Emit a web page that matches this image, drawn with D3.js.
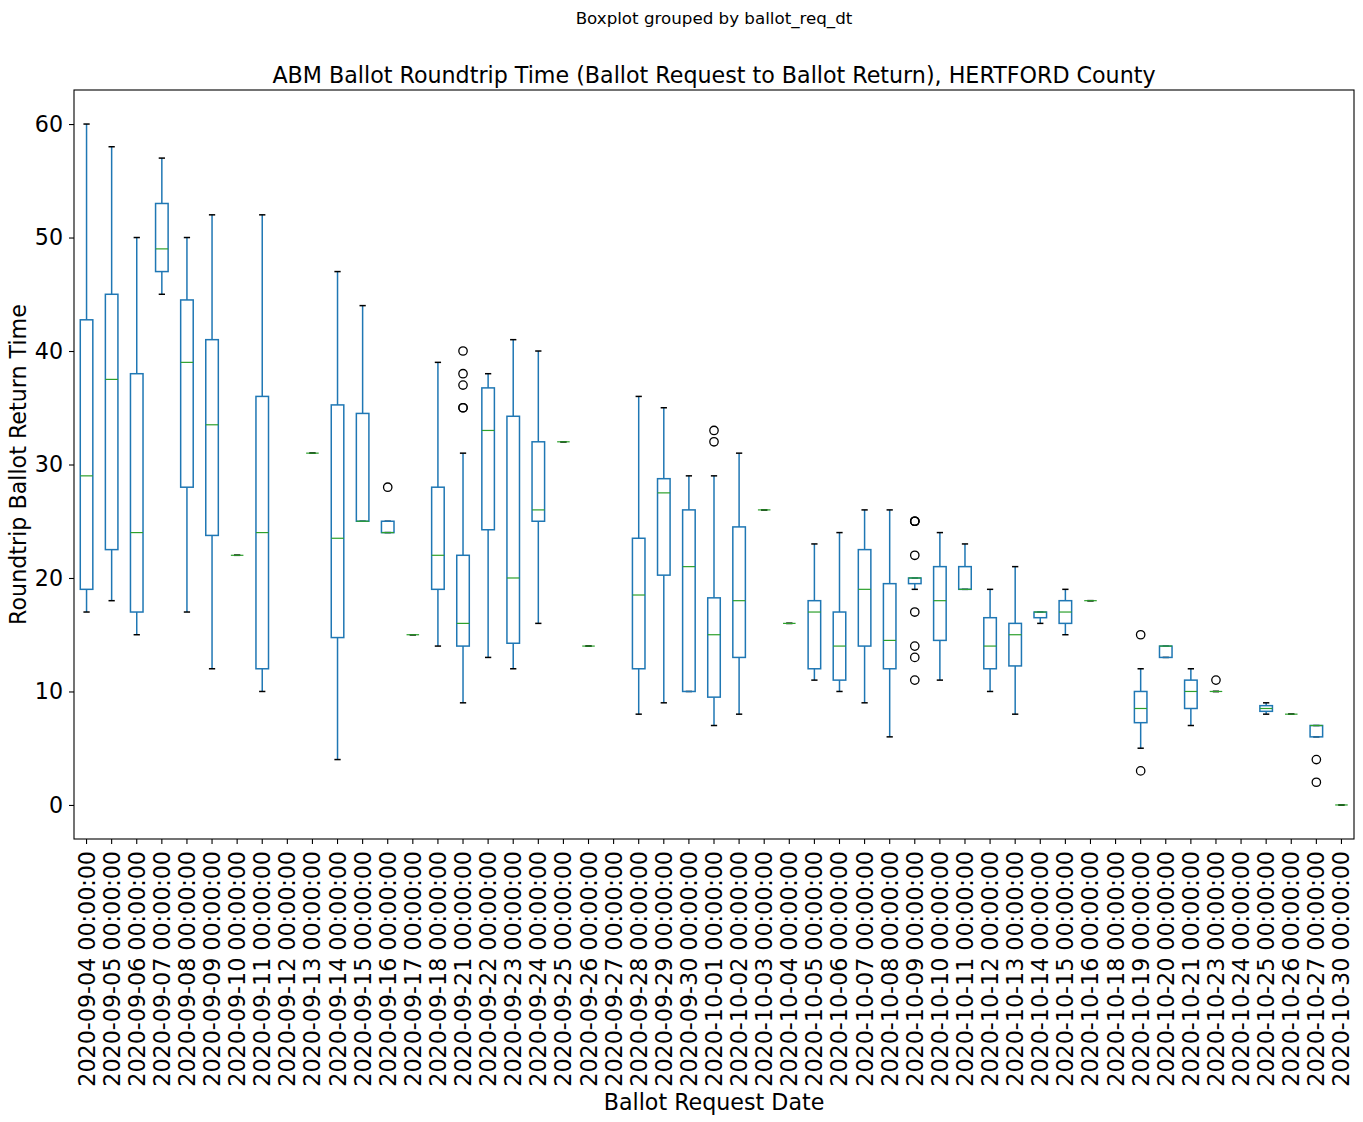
<!DOCTYPE html>
<html>
<head>
<meta charset="utf-8">
<script src="https://cdn.jsdelivr.net/npm/d3@7"></script>
<style>
  html, body { margin: 0; padding: 0; background: #fff; }
  svg { display: block; }
  text { font-family: "DejaVu Sans", sans-serif; fill: #000; }
</style>
</head>
<body>
<svg id="chart" width="1363" height="1122"></svg>
<script>
// ---- Data ----
const categories = [
  "2020-09-04 00:00:00","2020-09-05 00:00:00","2020-09-06 00:00:00","2020-09-07 00:00:00",
  "2020-09-08 00:00:00","2020-09-09 00:00:00","2020-09-10 00:00:00","2020-09-11 00:00:00",
  "2020-09-12 00:00:00","2020-09-13 00:00:00","2020-09-14 00:00:00","2020-09-15 00:00:00",
  "2020-09-16 00:00:00","2020-09-17 00:00:00","2020-09-18 00:00:00","2020-09-21 00:00:00",
  "2020-09-22 00:00:00","2020-09-23 00:00:00","2020-09-24 00:00:00","2020-09-25 00:00:00",
  "2020-09-26 00:00:00","2020-09-27 00:00:00","2020-09-28 00:00:00","2020-09-29 00:00:00",
  "2020-09-30 00:00:00","2020-10-01 00:00:00","2020-10-02 00:00:00","2020-10-03 00:00:00",
  "2020-10-04 00:00:00","2020-10-05 00:00:00","2020-10-06 00:00:00","2020-10-07 00:00:00",
  "2020-10-08 00:00:00","2020-10-09 00:00:00","2020-10-10 00:00:00","2020-10-11 00:00:00",
  "2020-10-12 00:00:00","2020-10-13 00:00:00","2020-10-14 00:00:00","2020-10-15 00:00:00",
  "2020-10-16 00:00:00","2020-10-18 00:00:00","2020-10-19 00:00:00","2020-10-20 00:00:00",
  "2020-10-21 00:00:00","2020-10-23 00:00:00","2020-10-24 00:00:00","2020-10-25 00:00:00",
  "2020-10-26 00:00:00","2020-10-27 00:00:00","2020-10-30 00:00:00"
];
// null = no box drawn for that date
const whiskerLow = [17,18,15,45,17,12,22,10,null,31,4,25,24,15,14,9,13,12,16,32,14,null,8,9,10,7,8,26,16,11,10,9,6,19,11,19,10,8,16,15,18,null,5,13,7,10,null,8,8,6,0];
const q1 =        [19,22.5,17,47,28,23.75,22,12,null,31,14.75,25,24,15,19,14,24.25,14.25,25,32,14,null,12,20.25,10,9.5,13,26,16,12,11,14,12,19.5,14.5,19,12,12.25,16.5,16,18,null,7.25,13,8.5,10,null,8.25,8,6,0];
const medians =   [29,37.5,24,49,39,33.5,22,24,null,31,23.5,25,24,15,22,16,33,20,26,32,14,null,18.5,27.5,21,15,18,26,16,17,14,19,14.5,20,18,19,14,15,17,17,18,null,8.5,14,10,10,null,8.5,8,7,0];
const q3 =        [42.75,45,38,53,44.5,41,22,36,null,31,35.25,34.5,25,15,28,22,36.75,34.25,32,32,14,null,23.5,28.75,26,18.25,24.5,26,16,18,17,22.5,19.5,20,21,21,16.5,16,17,18,18,null,10,14,11,10,null,8.75,8,7,0];
const whiskerHigh=[60,58,50,57,50,52,22,52,null,31,47,44,25,15,39,31,38,41,40,32,14,null,36,35,29,29,31,26,16,23,24,26,26,20,24,23,19,21,17,19,18,null,12,14,12,10,null,9,8,7,0];
const outliers = [[],[],[],[],[],[],[],[],[],[],[],[],[28],[],[],[35,35,37,38,40],[],[],[],[],[],[],[],[],[],[32,33],[],[],[],[],[],[],[],[25,25,25,22,17,14,13,11],[],[],[],[],[],[],[],[],[15,3],[],[],[11],[],[],[],[4,2],[]];
const yTicks = [0,10,20,30,40,50,60];

(function () {
  // ---- Layout ----
  const svg = d3.select("#chart");
  const mL = 74, mR = 1354, mT = 90, mB = 839;
  const fs = 22.2;

  const x = d3.scaleBand().domain(categories).range([mL, mR]).paddingInner(0).paddingOuter(0);
  const y = d3.scaleLinear().domain([-3, 63]).range([mB, mT]);
  const bw = x.bandwidth();
  const cx = c => x(c) + bw / 2;

  const blue = "#1f77b4", green = "#2ca02c";

  // ---- Boxes ----
  const data = categories.map((c, i) => ({
    c, lo: whiskerLow[i], q1: q1[i], med: medians[i], q3: q3[i], hi: whiskerHigh[i], out: outliers[i]
  })).filter(d => d.med !== null);

  const g = svg.append("g");
  const boxW = bw * 0.5, capW = bw * 0.25;

  data.forEach(d => {
    const xc = cx(d.c);
    const gg = g.append("g");
    gg.append("line").attr("x1", xc).attr("x2", xc).attr("y1", y(d.q1)).attr("y2", y(d.lo))
      .attr("stroke", blue).attr("stroke-width", 1.5);
    gg.append("line").attr("x1", xc).attr("x2", xc).attr("y1", y(d.q3)).attr("y2", y(d.hi))
      .attr("stroke", blue).attr("stroke-width", 1.5);
    [d.lo, d.hi].forEach(v => {
      gg.append("line").attr("x1", xc - capW / 2).attr("x2", xc + capW / 2)
        .attr("y1", y(v)).attr("y2", y(v)).attr("stroke", "#000").attr("stroke-width", 1.5);
    });
    gg.append("rect").attr("x", xc - boxW / 2).attr("width", boxW)
      .attr("y", y(d.q3)).attr("height", Math.max(0, y(d.q1) - y(d.q3)))
      .attr("fill", "none").attr("stroke", blue).attr("stroke-width", 1.5);
    gg.append("line").attr("x1", xc - boxW / 2).attr("x2", xc + boxW / 2)
      .attr("y1", y(d.med)).attr("y2", y(d.med)).attr("stroke", green).attr("stroke-width", 1.2);
    d.out.forEach(v => {
      gg.append("circle").attr("cx", xc).attr("cy", y(v)).attr("r", 4.2)
        .attr("fill", "none").attr("stroke", "#000").attr("stroke-width", 1.3);
    });
  });

  // ---- Axes ----
  const xAxis = d3.axisBottom(x).tickSize(5).tickPadding(4);
  const gx = svg.append("g").attr("transform", `translate(0,${mB})`).call(xAxis);
  gx.select(".domain").remove();
  gx.selectAll(".tick line").attr("stroke", "#000").attr("stroke-width", 1.1);
  gx.selectAll(".tick text")
    .attr("font-size", fs)
    .attr("font-family", "DejaVu Sans")
    .attr("text-anchor", "end")
    .attr("dominant-baseline", "central")
    .attr("dy", null)
    .attr("y", 0)
    .attr("transform", "translate(0,12) rotate(-90)");

  const yAxis = d3.axisLeft(y).tickValues(yTicks).tickSize(5).tickPadding(6);
  const gy = svg.append("g").attr("transform", `translate(${mL},0)`).call(yAxis);
  gy.select(".domain").remove();
  gy.selectAll(".tick line").attr("stroke", "#000").attr("stroke-width", 1.1);
  gy.selectAll(".tick text").attr("font-size", fs).attr("font-family", "DejaVu Sans");

  svg.append("rect").attr("x", mL).attr("y", mT).attr("width", mR - mL).attr("height", mB - mT)
    .attr("fill", "none").attr("stroke", "#000").attr("stroke-width", 1.1);

  // ---- Titles and labels ----
  const axCenter = (mL + mR) / 2;
  svg.append("text").attr("x", axCenter).attr("y", 18).attr("text-anchor", "middle")
    .attr("dominant-baseline", "central").attr("font-size", 16.7).text("Boxplot grouped by ballot_req_dt");
  svg.append("text").attr("x", axCenter).attr("y", 75).attr("text-anchor", "middle")
    .attr("dominant-baseline", "central").attr("font-size", fs)
    .text("ABM Ballot Roundtrip Time (Ballot Request to Ballot Return), HERTFORD County");
  svg.append("text").attr("x", axCenter).attr("y", 1102).attr("text-anchor", "middle")
    .attr("dominant-baseline", "central").attr("font-size", fs).text("Ballot Request Date");
  svg.append("text").attr("transform", `translate(18,${(mT + mB) / 2}) rotate(-90)`)
    .attr("text-anchor", "middle").attr("dominant-baseline", "central").attr("font-size", fs)
    .text("Roundtrip Ballot Return Time");
})();
</script>
</body>
</html>
